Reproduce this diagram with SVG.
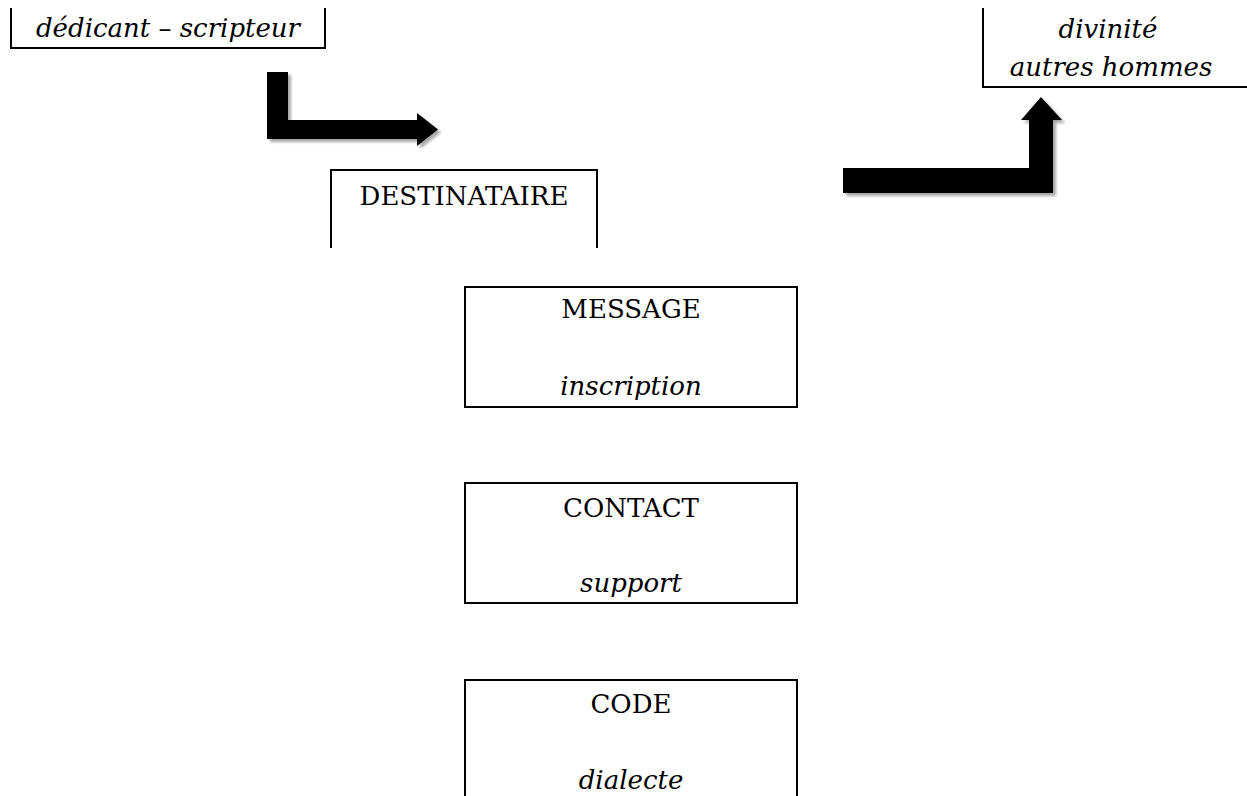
<svg xmlns="http://www.w3.org/2000/svg" width="1247" height="796" viewBox="0 0 1247 796">
<style>
.ln{fill:none;stroke:#000;stroke-width:2}
.t{font-family:"DejaVu Serif","Liberation Serif",serif;font-size:26px;fill:#000;text-anchor:middle}
.i{font-style:italic}
.arrow{fill:#000;filter:url(#sh)}
</style>
<defs>
<filter id="sh" x="-10%" y="-10%" width="130%" height="140%">
<feDropShadow dx="3" dy="3" stdDeviation="1.5" flood-color="#000" flood-opacity="0.35"/>
</filter>
</defs>
<rect width="1247" height="796" fill="#fff"/>
<g id="dedicant">
<path class="ln" d="M11,8 V48 H325 V8"/>
<text class="t i" x="168" y="37">dédicant – scripteur</text>
</g>
<g id="divinite">
<path class="ln" d="M983,8 V87 H1247"/>
<text class="t i" x="1108" y="38">divinité</text>
<text class="t i" x="1111" y="76">autres hommes</text>
</g>
<g id="destinataire">
<path class="ln" d="M331,248 V170 H597 V248"/>
<text class="t" x="464" y="205">DESTINATAIRE</text>
</g>
<g id="message">
<rect class="ln" x="465" y="287" width="332" height="120"/>
<text class="t" x="631" y="318">MESSAGE</text>
<text class="t i" x="631" y="395">inscription</text>
</g>
<g id="contact">
<rect class="ln" x="465" y="483" width="332" height="120"/>
<text class="t" x="631" y="517">CONTACT</text>
<text class="t i" x="631" y="592">support</text>
</g>
<g id="code">
<path class="ln" d="M465,797 V680 H797 V797"/>
<text class="t" x="631" y="713">CODE</text>
<text class="t i" x="631" y="789">dialecte</text>
</g>
<g id="connectors">
<polygon class="arrow" points="267,72 288,72 288,120 417,120 417,113 438,129.5 417,146 417,139 267,139"/>
<polygon class="arrow" points="843,168 1029,168 1029,120 1021,120 1041,97 1062,120 1053,120 1053,193 843,193"/>
</g>
</svg>
